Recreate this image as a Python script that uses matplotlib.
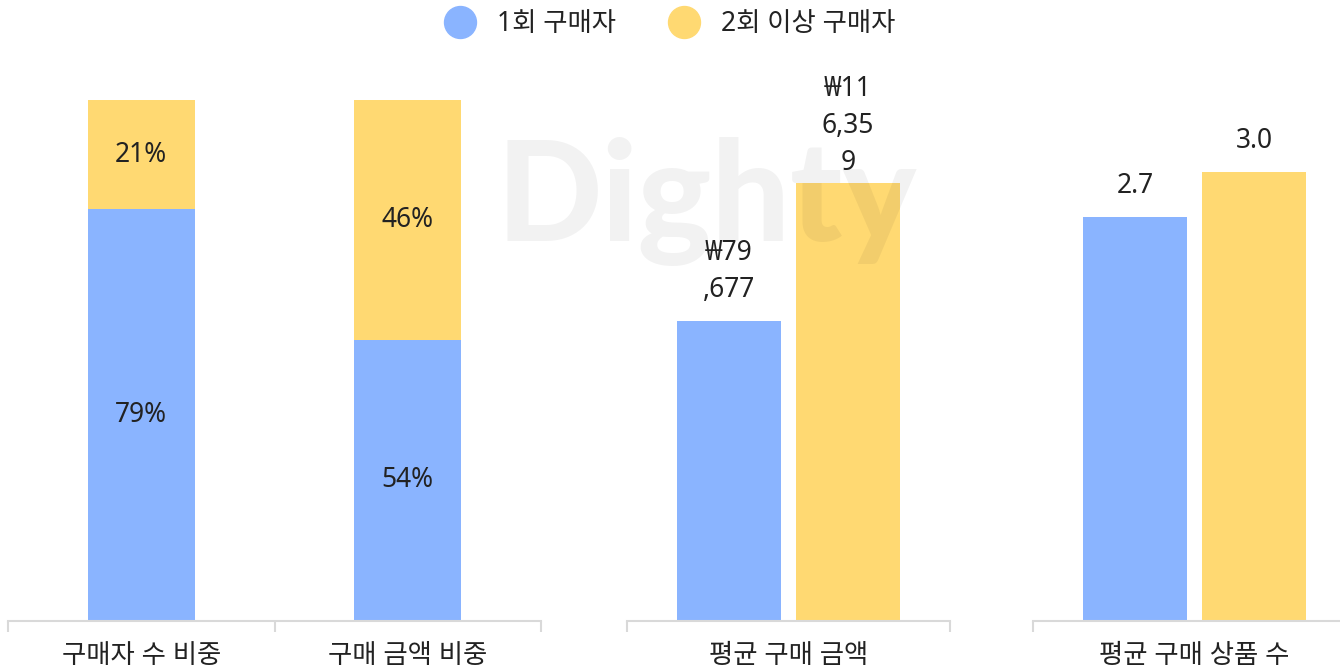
import matplotlib
matplotlib.use("Agg")
import matplotlib.pyplot as plt
from matplotlib.lines import Line2D

plt.rcParams['font.family'] = ['Noto Sans', 'Noto Sans CJK KR', 'DejaVu Sans']

# data
share_cats = ['구매자 수 비중', '구매 금액 비중']
share_once = [79, 54]
share_repeat = [21, 46]

amount_cat = '평균 구매 금액'
amount_once = 79677
amount_repeat = 116359

items_cat = '평균 구매 상품 수'
items_once = 2.7
items_repeat = 3.0

series_names = ['1회 구매자', '2회 이상 구매자']

BLUE = '#8AB4FF'
YELLOW = '#FFD972'
AXIS = '#D9D9D9'
TEXT = '#222222'
FS = 19
TICK_FS = 19

fig = plt.figure(figsize=(13.4, 6.71), dpi=100)

W, H = 1340, 671
bottom = 1 - 621 / H
height = (621 - 100) / H


def style(ax, edges):
    for s in ['top', 'right', 'left']:
        ax.spines[s].set_visible(False)
    ax.spines['bottom'].set_color(AXIS)
    ax.spines['bottom'].set_linewidth(1.5)
    ax.set_yticks([])
    ax.set_xticks(edges, minor=True)
    ax.tick_params(axis='x', which='minor', length=8, width=1.5, color=AXIS)
    ax.tick_params(axis='x', which='major', length=0, pad=15, labelsize=TICK_FS,
                   labelcolor=TEXT)


# left: stacked shares
ax1 = fig.add_axes([8 / W, bottom, 533 / W, height])
x = range(len(share_cats))
ax1.bar(x, share_once, width=0.4, color=BLUE)
ax1.bar(x, share_repeat, width=0.4, bottom=share_once, color=YELLOW)
for i in x:
    ax1.text(i, share_once[i] / 2, f'{share_once[i]}%', ha='center', va='center',
             fontsize=FS, color=TEXT)
    ax1.text(i, share_once[i] + share_repeat[i] / 2, f'{share_repeat[i]}%',
             ha='center', va='center', fontsize=FS, color=TEXT)
ax1.set_xlim(-0.5, 1.5)
ax1.set_ylim(0, 100)
ax1.set_xticks(list(x))
ax1.set_xticklabels(share_cats)
style(ax1, [-0.5, 0.5, 1.5])

# middle: average amount
ax2 = fig.add_axes([627 / W, bottom, 323 / W, height])
off = 0.184
ax2.bar([-off, off], [amount_once, amount_repeat], width=0.322, color=[BLUE, YELLOW])
ax2.set_xlim(-0.5, 0.5)
ax2.set_ylim(0, 138400)
ax2.annotate('₩79\n,677', (-off, amount_once), xytext=(0, 12), textcoords='offset points',
             ha='center', va='bottom', fontsize=FS, color=TEXT, linespacing=1.45)
ax2.annotate('₩11\n6,35\n9', (off, amount_repeat), xytext=(0, 4), textcoords='offset points',
             ha='center', va='bottom', fontsize=FS, color=TEXT, linespacing=1.45)
ax2.set_xticks([0])
ax2.set_xticklabels([amount_cat])
style(ax2, [-0.5, 0.5])

# right: average items
ax3 = fig.add_axes([1033 / W, bottom, 323 / W, height])
ax3.bar([-off, off], [items_once, items_repeat], width=0.322, color=[BLUE, YELLOW])
ax3.set_xlim(-0.5, 0.5)
ax3.set_ylim(0, 3.48)
for xv, v in zip([-off, off], [items_once, items_repeat]):
    ax3.annotate(f'{v:.1f}', (xv, v), xytext=(0, 12), textcoords='offset points',
                 ha='center', va='bottom', fontsize=FS, color=TEXT)
ax3.set_xticks([0])
ax3.set_xticklabels([items_cat])
style(ax3, [-0.5, 0.5])

# legend
handles = [Line2D([], [], marker='o', linestyle='', markersize=23, color=c)
           for c in [BLUE, YELLOW]]
fig.legend(handles, series_names, loc='upper center', bbox_to_anchor=(0.496, 1.02),
           ncol=2, frameon=False, fontsize=FS, handletextpad=0.4, columnspacing=1.6,
           labelcolor=TEXT)

# watermark
fig.text(0.527, 0.70, 'Dighty', ha='center', va='center', fontsize=100,
         fontweight='black', family='Lato', color='black', alpha=0.05, zorder=10)

fig.savefig('out.png', dpi=100)
